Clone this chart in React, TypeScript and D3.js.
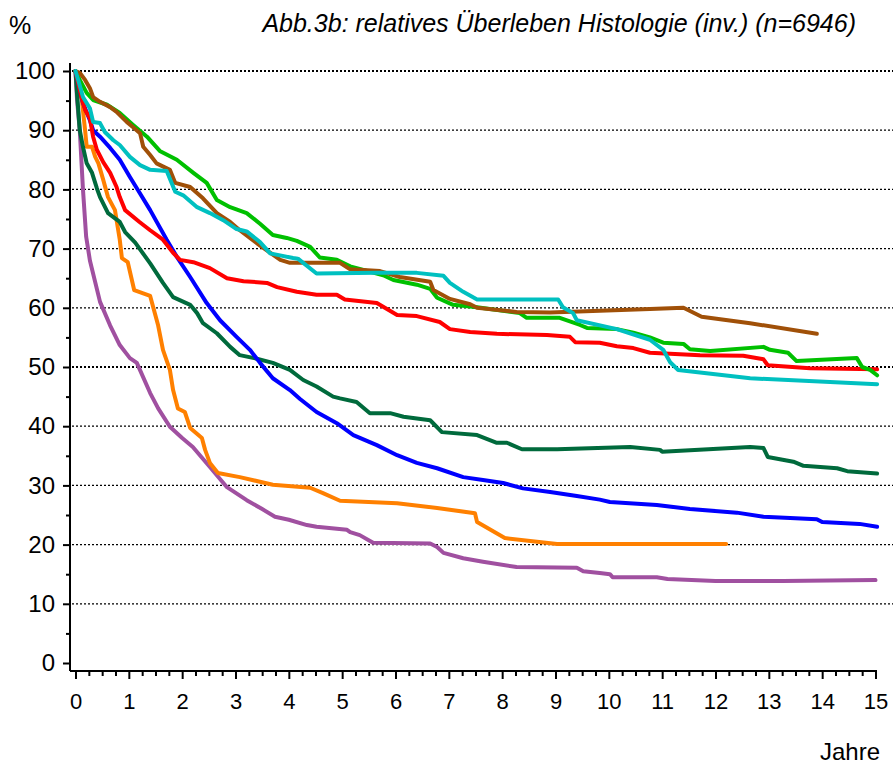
import { useEffect, useRef } from "react";
import * as d3 from "d3";

// [years, percent], one array per histology group
const purple: [number, number][] = [
  [0, 100], [0.03, 95], [0.08, 90], [0.14, 80], [0.2, 72], [0.27, 68], [0.46, 61],
  [0.65, 57], [0.83, 53.7], [1.02, 51.5], [1.15, 50.7], [1.4, 45.6], [1.55, 43],
  [1.77, 39.9], [2.0, 38], [2.2, 36.5], [2.52, 33.1], [2.84, 29.7], [3.21, 27.5],
  [3.5, 26], [3.74, 24.7], [4.0, 24.2], [4.34, 23.3], [4.52, 23], [5.09, 22.5],
  [5.15, 22.1], [5.33, 21.6], [5.58, 20.3], [6.65, 20.2], [6.78, 19.6], [6.9, 18.6],
  [7.27, 17.7], [7.64, 17.1], [8.27, 16.2], [9.4, 16.1], [9.52, 15.5], [9.83, 15.2],
  [10.02, 15], [10.07, 14.5], [10.9, 14.5], [11.1, 14.2], [12.0, 13.85], [13.27, 13.85],
  [15.0, 14.0],
];
const orange: [number, number][] = [
  [0, 100], [0.06, 97], [0.12, 95], [0.18, 90], [0.21, 87.2], [0.31, 87.2], [0.37, 85.5],
  [0.43, 84.4], [0.52, 81.6], [0.61, 78.7], [0.74, 76.5], [0.83, 71.5], [0.87, 68.4],
  [0.98, 67.7], [1.1, 63], [1.4, 62], [1.55, 57], [1.64, 52.9], [1.77, 49.5], [1.83, 46.1],
  [1.92, 43], [2.05, 42.4], [2.15, 39.7], [2.37, 38], [2.43, 36], [2.52, 33.8], [2.67, 32.1],
  [3.08, 31.4], [3.7, 30.1], [4.4, 29.6], [4.64, 28.7], [4.96, 27.4], [6.03, 27],
  [6.78, 26.2], [7.49, 25.3], [7.53, 23.8], [8.05, 21.1], [9.03, 20.1], [12.2, 20.1],
];
const darkGreen: [number, number][] = [
  [0, 100], [0.03, 96], [0.08, 90], [0.14, 87.2], [0.21, 84.4], [0.31, 82.8], [0.4, 80.2],
  [0.46, 78.7], [0.61, 76], [0.83, 74.5], [0.93, 72.8], [1.12, 71], [1.4, 67.5],
  [1.64, 64.2], [1.83, 61.8], [2.15, 60.5], [2.28, 59.1], [2.39, 57.4], [2.65, 55.7],
  [2.9, 53.4], [3.08, 52], [3.4, 51.4], [3.7, 50.7], [4.02, 49.5], [4.27, 47.8],
  [4.52, 46.7], [4.83, 45], [4.96, 44.7], [5.27, 44.1], [5.52, 42.2], [5.9, 42.2],
  [6.15, 41.6], [6.65, 41], [6.87, 39], [7.53, 38.5], [7.9, 37.2], [8.09, 37.2],
  [8.37, 36.1], [9.03, 36.1], [10.4, 36.5], [10.96, 36], [11.0, 35.7], [12.65, 36.5],
  [12.9, 36.3], [12.98, 34.8], [13.46, 34], [13.65, 33.3], [14.28, 32.9], [14.47, 32.4],
  [15.03, 32],
];
const blue: [number, number][] = [
  [0, 100], [0.14, 94.6], [0.27, 91.7], [0.33, 90], [0.46, 88.9], [0.65, 87], [0.83, 85],
  [1.02, 82.1], [1.17, 79.9], [1.4, 76.5], [1.71, 71.5], [1.9, 68.6], [2.15, 65.2],
  [2.46, 60.8], [2.71, 57.9], [3.02, 55.1], [3.27, 52.9], [3.46, 50.7], [3.7, 48.1],
  [4.02, 46.1], [4.21, 44.6], [4.52, 42.4], [4.9, 40.5], [5.21, 38.5], [5.65, 36.8],
  [6.03, 35.1], [6.4, 33.8], [6.78, 32.9], [7.27, 31.4], [7.64, 30.9], [8.02, 30.4],
  [8.39, 29.5], [8.9, 28.9], [9.4, 28.2], [9.83, 27.6], [10.02, 27.2], [10.9, 26.7],
  [11.52, 26], [12.4, 25.4], [12.9, 24.7], [13.9, 24.3], [14.0, 23.8], [14.7, 23.5],
  [15.03, 23],
];
const red: [number, number][] = [
  [0, 100], [0.1, 96], [0.18, 93.4], [0.27, 92], [0.33, 88.9], [0.4, 86.7], [0.52, 84.6],
  [0.65, 82.8], [0.77, 80.4], [0.83, 78.7], [0.93, 76.5], [1.2, 74.5], [1.4, 73.1],
  [1.64, 71.5], [1.83, 69.3], [1.96, 68.1], [2.21, 67.7], [2.52, 66.7], [2.84, 65],
  [3.15, 64.5], [3.59, 64.2], [3.78, 63.5], [4.15, 62.7], [4.52, 62.2], [4.9, 62.2],
  [5.05, 61.4], [5.65, 60.8], [6.03, 58.8], [6.4, 58.6], [6.83, 57.6], [7.02, 56.4],
  [7.4, 55.9], [7.9, 55.6], [8.84, 55.4], [9.27, 55.1], [9.37, 54.2], [9.83, 54.1],
  [10.15, 53.5], [10.46, 53.2], [10.77, 52.4], [11.71, 52], [12.52, 51.9], [12.9, 51.3],
  [12.98, 50.3], [13.77, 49.8], [15.03, 49.6],
];
const green: [number, number][] = [
  [0, 100], [0.08, 98.5], [0.21, 96.3], [0.33, 95.1], [0.59, 94.3], [0.83, 92.9],
  [1.08, 90.9], [1.34, 88.9], [1.58, 86.5], [1.9, 85], [2.21, 82.8], [2.46, 81.1],
  [2.65, 78.2], [2.9, 77], [3.21, 76], [3.46, 74.2], [3.7, 72.3], [3.96, 71.8],
  [4.15, 71.3], [4.4, 70.3], [4.58, 68.5], [4.9, 68.1], [5.15, 67], [5.77, 65.5],
  [5.96, 64.7], [6.4, 63.9], [6.65, 63.2], [6.78, 61.7], [7.08, 60.5], [7.53, 60.1],
  [8.33, 59.1], [8.46, 58.3], [9.08, 58.3], [9.46, 57.1], [9.59, 56.6], [10.15, 56.4],
  [10.46, 55.8], [10.77, 55], [11.02, 54.1], [11.4, 53.9], [11.52, 53], [11.9, 52.7],
  [12.9, 53.4], [13.02, 52.9], [13.36, 52.4], [13.52, 51], [14.65, 51.5], [14.75, 50],
  [14.9, 49.5], [15.03, 48.6],
];
const brown: [number, number][] = [
  [0, 100], [0.08, 99.7], [0.18, 98.5], [0.27, 97.1], [0.33, 95.6], [0.46, 94.8],
  [0.65, 93.9], [0.77, 93.1], [0.96, 91.4], [1.08, 90.5], [1.21, 89.5], [1.27, 87.2],
  [1.4, 85.8], [1.52, 84.4], [1.77, 83.3], [1.87, 81.1], [2.15, 80.4], [2.39, 78.5],
  [2.65, 76], [2.9, 74.5], [3.08, 73.1], [3.27, 71.8], [3.46, 70.5], [3.84, 68.1],
  [4.02, 67.6], [4.96, 67.6], [5.15, 66.5], [5.71, 66.2], [6.08, 65.2], [6.65, 64.4],
  [6.71, 63], [7.02, 61.5], [7.4, 60.6], [7.53, 60], [8.27, 59.3], [8.9, 59.2],
  [9.83, 59.5], [10.77, 59.8], [11.4, 60], [11.74, 58.5], [12.65, 57.4], [13.9, 55.6],
];
const cyan: [number, number][] = [
  [0, 100], [0.05, 98.5], [0.14, 95.6], [0.27, 93.7], [0.33, 91.4], [0.46, 91.2],
  [0.55, 89.7], [0.71, 88.3], [0.83, 87.5], [1.02, 85.5], [1.21, 84.1], [1.4, 83.3],
  [1.71, 83.1], [1.87, 79.6], [2.02, 79], [2.28, 77], [2.52, 76], [2.77, 74.8],
  [3.02, 73.3], [3.21, 72.9], [3.46, 71.1], [3.65, 69.2], [4.08, 68.4], [4.17, 68.3],
  [4.52, 65.8], [5.65, 65.9], [6.4, 65.9], [6.9, 65.4], [7.02, 64.2], [7.27, 62.7],
  [7.53, 61.4], [9.05, 61.4], [9.14, 60.1], [9.33, 59.1], [9.4, 57.9], [10.15, 56.4],
  [10.77, 54.6], [11.02, 52.9], [11.15, 50.8], [11.3, 49.5], [12.65, 48.1], [15.03, 47.1],
];

const series = [
  { data: purple, color: "#a050a0" },
  { data: orange, color: "#ff8000" },
  { data: darkGreen, color: "#006a3c" },
  { data: blue, color: "#0000ff" },
  { data: red, color: "#ff0000" },
  { data: green, color: "#00c000" },
  { data: brown, color: "#a05008" },
  { data: cyan, color: "#00c0c0" },
];

const yTicks = [0, 10, 20, 30, 40, 50, 60, 70, 80, 90, 100];
const xTicks = [0, 1, 2, 3, 4, 5, 6, 7, 8, 9, 10, 11, 12, 13, 14, 15];
const gridValues = [10, 20, 30, 40, 50, 60, 70, 80, 90, 100];

export default function App() {
  const svgRef = useRef<SVGSVGElement | null>(null);

  useEffect(() => {
    document.body.style.margin = "0";
    if (!svgRef.current) return;
    const svg = d3.select(svgRef.current);
    svg.selectAll("*").remove();
    const font = "Liberation Sans, Arial, sans-serif";

    const x = d3.scaleLinear().domain([0, 15]).range([75.5, 875.5]);
    const y = d3.scaleLinear().domain([0, 100]).range([663, 71]);
    const axisX = 70;
    const axisY = 671;

    // gridlines (dotted, 50 and 100 heavier)
    svg
      .append("g")
      .selectAll("line")
      .data(gridValues)
      .enter()
      .append("line")
      .attr("x1", axisX + 2)
      .attr("x2", 893)
      .attr("y1", (d) => y(d))
      .attr("y2", (d) => y(d))
      .attr("stroke", "#000")
      .attr("stroke-width", (d) => (d === 50 || d === 100 ? 2 : 1.2))
      .attr("stroke-dasharray", "2,2");

    // curves
    const line = d3
      .line<[number, number]>()
      .x((d) => x(d[0]))
      .y((d) => y(d[1]));
    svg
      .append("g")
      .selectAll("path")
      .data(series)
      .enter()
      .append("path")
      .attr("d", (s) => line(s.data))
      .attr("fill", "none")
      .attr("stroke", (s) => s.color)
      .attr("stroke-width", 4)
      .attr("stroke-linejoin", "round")
      .attr("stroke-linecap", "round");

    // axis lines
    svg
      .append("line")
      .attr("x1", axisX)
      .attr("x2", axisX)
      .attr("y1", 63)
      .attr("y2", axisY)
      .attr("stroke", "#000")
      .attr("stroke-width", 2);
    svg
      .append("line")
      .attr("x1", axisX)
      .attr("x2", 877)
      .attr("y1", axisY)
      .attr("y2", axisY)
      .attr("stroke", "#000")
      .attr("stroke-width", 2);

    // y axis ticks + labels
    const yMinor = d3.range(5, 100, 10);
    const yAxis = svg.append("g").attr("transform", `translate(${axisX},0)`);
    yAxis
      .call(d3.axisLeft(y).tickValues(yTicks).tickSize(7).tickPadding(8))
      .call((g) => g.select(".domain").remove());
    yAxis.selectAll("line").attr("stroke-width", 2);
    yAxis
      .selectAll("text")
      .attr("font-family", font)
      .attr("font-size", 24)
      .attr("fill", "#000");
    const yAxisMinor = svg.append("g").attr("transform", `translate(${axisX},0)`);
    yAxisMinor
      .call(d3.axisLeft(y).tickValues(yMinor).tickSize(4).tickFormat(() => ""))
      .call((g) => g.select(".domain").remove());
    yAxisMinor.selectAll("line").attr("stroke-width", 2);

    // x axis ticks + labels
    const xMinor = d3.range(0, 15.01, 0.25).filter((d) => d % 1 !== 0);
    const xAxis = svg.append("g").attr("transform", `translate(0,${axisY})`);
    xAxis
      .call(d3.axisBottom(x).tickValues(xTicks).tickSize(8).tickPadding(14).tickFormat(d3.format("d")))
      .call((g) => g.select(".domain").remove());
    xAxis.selectAll("line").attr("stroke-width", 2);
    xAxis
      .selectAll("text")
      .attr("font-family", font)
      .attr("font-size", 22)
      .attr("fill", "#000");
    const xAxisMinor = svg.append("g").attr("transform", `translate(0,${axisY})`);
    xAxisMinor
      .call(d3.axisBottom(x).tickValues(xMinor).tickSize(5).tickFormat(() => ""))
      .call((g) => g.select(".domain").remove());
    xAxisMinor.selectAll("line").attr("stroke-width", 2);

    // texts
    svg
      .append("text")
      .attr("x", 9)
      .attr("y", 34)
      .attr("font-family", font)
      .attr("font-size", 25)
      .text("%");
    svg
      .append("text")
      .attr("x", 856)
      .attr("y", 32)
      .attr("text-anchor", "end")
      .attr("font-family", font)
      .attr("font-style", "italic")
      .attr("font-size", 25)
      .text("Abb.3b: relatives Überleben Histologie (inv.) (n=6946)");
    svg
      .append("text")
      .attr("x", 880)
      .attr("y", 760)
      .attr("text-anchor", "end")
      .attr("font-family", font)
      .attr("font-size", 24)
      .text("Jahre");
  }, []);

  return (
    <div style={{ position: "absolute", left: 0, top: 0 }}>
      <svg ref={svgRef} width={893} height={767} style={{ display: "block", background: "#fff" }} />
    </div>
  );
}
